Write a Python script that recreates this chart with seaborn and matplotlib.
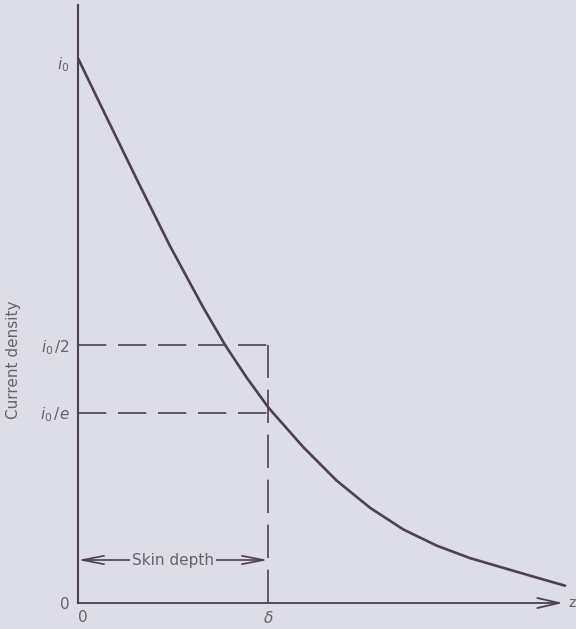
import matplotlib
matplotlib.use("Agg")
import matplotlib.pyplot as plt
import seaborn as sns
import pandas as pd

# depth (units of skin depth delta) and current density (units of i0)
depth = [0.0, 0.132, 0.311, 0.484, 0.658, 0.774, 0.889, 1.005, 1.186, 1.362, 1.537,
         1.712, 1.888, 2.063, 2.238, 2.414, 2.563]
density = [1.007, 0.911, 0.782, 0.660, 0.547, 0.477, 0.416, 0.360, 0.288, 0.226, 0.176,
           0.136, 0.106, 0.083, 0.065, 0.047, 0.032]

ytick_vals = [0.0, 0.352, 0.477, 1.0]
ytick_labels = ["0", r"$i_0\,/e$", r"$i_0\,/2$", r"$i_0$"]
xtick_vals = [0.0, 1.0]
xtick_labels = ["0", r"$\delta$"]
half_level = 0.477
e_level = 0.352
skin_depth = 1.0

BG = "#dcdde6"
INK = "#4f3f53"
TXT = "#6a5f6c"

sns.set_theme(style="white")
plt.rcParams["font.family"] = ["DejaVu Sans"]
plt.rcParams["mathtext.fontset"] = "dejavusans"

W, H = 576, 629
fig = plt.figure(figsize=(W / 100, H / 100), dpi=100, facecolor=BG)
x0, y0 = 78, 603
px_per_x = 190.0
px_per_y = 541.0
ax = fig.add_axes([x0 / W, (H - y0) / H, (W - x0) / W, (y0 - 5) / H])
ax.set_facecolor(BG)
ax.set_xlim(0, (W - x0) / px_per_x)
ax.set_ylim(0, (y0 - 5) / px_per_y)

df = pd.DataFrame({"depth": depth, "density": density})
sns.lineplot(data=df, x="depth", y="density", ax=ax, color=INK, lw=1.9,
             sort=False, estimator=None, clip_on=False)

dash = (0, (17, 7))
ax.plot([0, skin_depth], [half_level, half_level], color=INK, lw=1.2, linestyle=dash)
ax.plot([0, skin_depth], [e_level, e_level], color=INK, lw=1.2, linestyle=dash)
ax.plot([skin_depth, skin_depth], [0, half_level], color=INK, lw=1.2, linestyle=(0, (20, 7)))

# x axis arrow
xend = (563 - x0) / px_per_x
ax.annotate("", xy=(xend, 0), xytext=(0, 0),
            arrowprops=dict(arrowstyle="->,head_length=1.3,head_width=0.3", color=INK, lw=1.3,
                            shrinkA=0, shrinkB=0), annotation_clip=False)
ax.text(xend + 0.03, 0, "z", color=TXT, fontsize=10, va="center", ha="left", clip_on=False)

# skin depth arrow
sy = (y0 - 560) / px_per_y
ax.annotate("", xy=(0, sy), xytext=(skin_depth, sy),
            arrowprops=dict(arrowstyle="<->,head_length=1.3,head_width=0.25", color=INK, lw=1.2,
                            shrinkA=0, shrinkB=0))
ax.text(0.5, sy, "Skin depth", color=TXT, fontsize=11, ha="center", va="center",
        bbox=dict(facecolor=BG, edgecolor="none", pad=1.5))

for s in ["top", "right", "bottom"]:
    ax.spines[s].set_visible(False)
ax.spines["left"].set_color(INK)
ax.spines["left"].set_linewidth(1.5)

ax.set_yticks(ytick_vals)
ax.set_yticklabels(ytick_labels, color=TXT, fontsize=11)
ax.set_xticks(xtick_vals)
ax.set_xticklabels(xtick_labels, color=TXT, fontsize=11)
ax.tick_params(axis="y", length=0, pad=6)
ax.tick_params(axis="x", length=0, pad=5)
for lbl in ax.get_xticklabels():
    if lbl.get_text() == "0":
        lbl.set_horizontalalignment("left")

ax.set_xlabel("")
ax.set_ylabel("Current density", color=TXT, fontsize=11)
ax.yaxis.set_label_coords(-(x0 - 21) / (W - x0), (y0 - 360) / (y0 - 5))

fig.savefig("out.png", dpi=100, facecolor=BG)
